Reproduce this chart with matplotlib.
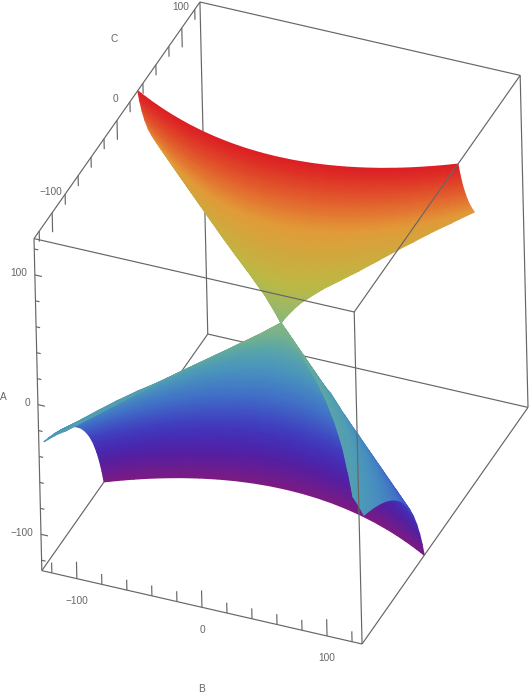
import numpy as np
import matplotlib
matplotlib.use('Agg')
import matplotlib.pyplot as plt
from matplotlib.colors import LinearSegmentedColormap
from mpl_toolkits.mplot3d import proj3d

plt.rcParams['font.family'] = ['Liberation Sans', 'DejaVu Sans']

# axis ranges and ticks, read from the box
AXIS_MAX = 128
TICKS = [-120, -100, -80, -60, -40, -20, 0, 20, 40, 60, 80, 100, 120]
MAJOR_TICKS = [-100, 0, 100]

# one half of a row across B, the other half mirrors it
B_SHARE = [0, 0.1, 0.2, 0.3, 0.4, 0.5, 0.6, 0.7, 0.78, 0.85, 0.9, 0.94, 0.97, 1]
C_SHARE = [0, 0.01, 0.04, 0.09, 0.16, 0.25, 0.36, 0.49, 0.608, 0.723, 0.81, 0.884, 0.941, 1]

# upper sheet: A level, half width in B and C at the row's end
A_TOP = [128, 118, 108, 98, 88, 80, 75, 69, 63, 58, 53, 46, 39, 33, 27, 21, 16, 11, 6, 3, 0]
B_TOP = [128, 128, 128, 128, 128, 128, 128, 114, 100, 90, 80, 67, 54, 42, 30, 21, 14, 9, 4.5, 2, 0]
C_TOP = [32, 34.7, 37.9, 41.8, 46.5, 51.2, 54.6, 47.1, 39.7, 34.9, 30.2, 24.4, 18.7, 13.4,
         8.3, 5.25, 3.1, 1.8, 0.84, 0.33, 0]

# lower sheet, same layout
A_LOW = [-128, -118, -108, -98, -88, -79, -71, -64, -58, -52, -47, -43, -39, -36, -34,
         -30.5, -29, -27.5, -25.5, -23, -20, -15.5, -11, -7, -3, 0]
B_LOW = [128, 128, 128, 128, 128, 128, 128, 128, 128, 128, 128, 128, 128, 128, 128,
         122, 115, 100, 85, 70, 55, 38, 25, 14, 6, 0]
C_LOW = [-32, -34.7, -37.9, -41.8, -46.5, -51.8, -57.7, -64, -70.6, -78.8, -87.1, -95.3,
         -105, -113.8, -120.5, -117, -112, -90.9, -70.8, -53.3, -37.8, -23.3, -14.2,
         -7, -3, 0]

rainbow = LinearSegmentedColormap.from_list('rainbow_a', [
    (0.00, '#7d1a82'), (0.09, '#5020a6'), (0.17, '#4038be'), (0.27, '#4070c8'),
    (0.36, '#4a96bc'), (0.42, '#5ba6a8'), (0.47, '#78b38c'), (0.52, '#8db878'),
    (0.62, '#bdb944'), (0.80, '#e29a38'), (0.90, '#e25a2c'), (1.00, '#dc1e24'),
])

GREY = '#666666'

fig = plt.figure(figsize=(5.29, 6.97), dpi=100)

# the 3d axes only supplies the camera
cam = fig.add_subplot(111, projection='3d', proj_type='ortho')
cam.set_xlim(-AXIS_MAX, AXIS_MAX)
cam.set_ylim(-AXIS_MAX, AXIS_MAX)
cam.set_zlim(-AXIS_MAX, AXIS_MAX)
cam.set_box_aspect((1.354, 1.685, 1.604))
cam.view_init(elev=36, azim=-66.6, roll=1.35)
cam.set_visible(False)
M = cam.get_proj()


def project(b, c, a):
    return proj3d.proj_transform(np.asarray(b, float), np.asarray(c, float),
                                 np.asarray(a, float), M)


ax = fig.add_axes([0, 0, 1, 1])
ax.axis('off')


def edge(p, q, zorder):
    x, y, _ = project([p[0], q[0]], [p[1], q[1]], [p[2], q[2]])
    ax.plot(x, y, color=GREY, lw=0.85, zorder=zorder, solid_capstyle='butt')


def draw_sheet(a_levels, b_end, c_end):
    b_share = np.array(B_SHARE)
    c_share = np.array(C_SHARE)
    # mirror the half rows
    b_full = np.outer(b_end, np.concatenate([-b_share[:0:-1], b_share]))
    c_full = np.outer(c_end, np.concatenate([c_share[:0:-1], c_share]))
    a_full = np.repeat(np.array(a_levels, float)[:, None], b_full.shape[1], axis=1)

    x, y, depth = project(b_full.ravel(), c_full.ravel(), a_full.ravel())
    nrow, ncol = b_full.shape
    tris = []
    for i in range(nrow - 1):
        for j in range(ncol - 1):
            p = i * ncol + j
            tris.append([p, p + 1, p + ncol])
            tris.append([p + 1, p + ncol + 1, p + ncol])
    tris = np.array(tris)
    # far triangles first, so the fold covers what is behind it
    tris = tris[np.argsort(-depth[tris].mean(axis=1))]
    ax.tripcolor(x, y, tris, a_full.ravel(), shading='gouraud', cmap=rainbow,
                 vmin=-AXIS_MAX, vmax=AXIS_MAX, zorder=2)


m = AXIS_MAX
# edges behind the surface
edge((-m, m, -m), (-m, -m, -m), 1)
edge((-m, m, -m), (m, m, -m), 1)
edge((-m, m, -m), (-m, m, m), 1)

draw_sheet(A_TOP, B_TOP, C_TOP)
draw_sheet(A_LOW, B_LOW, C_LOW)

# edges in front of it
for p, q in [((-m, -m, m), (m, -m, m)), ((m, -m, m), (m, m, m)),
             ((m, m, m), (-m, m, m)), ((-m, m, m), (-m, -m, m)),
             ((-m, -m, m), (-m, -m, -m)), ((m, -m, m), (m, -m, -m)),
             ((m, m, m), (m, m, -m)), ((-m, -m, -m), (m, -m, -m)),
             ((m, -m, -m), (m, m, -m))]:
    edge(p, q, 3)

for t in TICKS:
    major = t in MAJOR_TICKS
    edge((t, -m, -m), (t, -m, -m + (13 if major else 8)), 3)
    edge((-m, t, m), (-m, t, m - (15 if major else 8)), 3)
    edge((-m, -m, t), (-m + (5.6 if major else 3.2), -m, t), 3)

for t in MAJOR_TICKS:
    label = str(t).replace('-', '\u2212')
    x, y, _ = project(t, -m, -m)
    ax.annotate(label, (x, y), xytext=(0, -22.5), textcoords='offset pixels',
                ha='center', va='center', fontsize=7.3, color=GREY, zorder=4)
    x, y, _ = project(-m, t, m)
    ax.annotate(label, (x, y), xytext=(-1.5, 21), textcoords='offset pixels',
                ha='center', va='center', fontsize=7.3, color=GREY, zorder=4)
    x, y, _ = project(-m, -m, t)
    ax.annotate(label, (x, y), xytext=(-8, 1.5), textcoords='offset pixels',
                ha='right', va='center', fontsize=7.3, color=GREY, zorder=4)

x, y, _ = project(0, -m, -m)
ax.annotate('B', (x, y), xytext=(0, -82), textcoords='offset pixels',
            ha='center', va='center', fontsize=7.3, color=GREY)
x, y, _ = project(-m, 0, m)
ax.annotate('C', (x, y), xytext=(-3, 81), textcoords='offset pixels',
            ha='center', va='center', fontsize=7.3, color=GREY)
x, y, _ = project(-m, -m, 0)
ax.annotate('A', (x, y), xytext=(-35, 8), textcoords='offset pixels',
            ha='center', va='center', fontsize=7.3, color=GREY)

# place the box on the canvas by two opposite corners per direction
xl, _, _ = project(-m, -m, m)
xr, _, _ = project(m, m, -m)
_, yt, _ = project(-m, m, m)
_, yb, _ = project(m, -m, -m)
sx = (528 - 34) / (xr - xl)
sy = (644 - 2) / (yt - yb)
x0 = xl - 34 / sx
y1 = yt + 2 / sy
ax.set_xlim(x0, x0 + 529 / sx)
ax.set_ylim(y1 - 697 / sy, y1)

fig.savefig('out.png', dpi=100)
